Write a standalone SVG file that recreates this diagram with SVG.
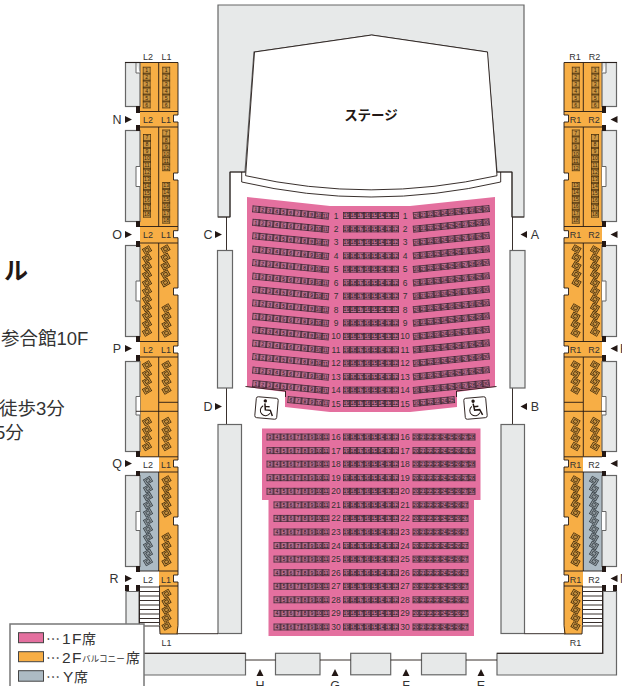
<svg xmlns="http://www.w3.org/2000/svg" xmlns:xlink="http://www.w3.org/1999/xlink" width="622" height="686" viewBox="0 0 622 686">
<style>
text{font-family:"Liberation Sans","Noto Sans CJK JP",sans-serif;fill:#333}
.wall{fill:#e7e9e9;stroke:#666;stroke-width:1.2}
.ln{fill:none;stroke:#231815;stroke-width:.9}
.bk{fill:#231815}
.or{fill:#f7ae45}
.by{fill:#adbbc4}
.pk{fill:#e4709f}
.sd{font-size:5.2px;text-anchor:middle;fill:#1d1014}
.sq{font-size:5.2px;text-anchor:middle;fill:#3a2508}
.rn{font-size:8.5px;text-anchor:middle}
.lb{font-size:9px;text-anchor:middle}
.lt{font-size:12.5px;text-anchor:middle}
.cap{font-size:14px}
.big{font-size:15.5px;letter-spacing:1.5px}
.ctl{font-size:18.5px}
</style>
<defs>
<pattern id="cell" width="7" height="7" patternUnits="userSpaceOnUse" x="0" y="-3.5"><rect width="7" height="7" fill="#33202a"/><rect x=".7" y=".7" width="5.6" height="5.6" fill="#bb6f91"/></pattern>
<pattern id="cellv" width="8" height="6.95" patternUnits="userSpaceOnUse" x="-4" y="0"><rect width="8" height="6.95" fill="#3a2508"/><rect x=".6" y=".7" width="6.8" height="5.6" fill="#cf9843"/></pattern>
<g id="di"><g transform="rotate(-30)"><rect x="-4" y="-3.3" width="8" height="6.6" fill="#3a2508"/><rect x="-3.3" y="-2.6" width="6.6" height="5.2" fill="#c9923f"/><rect x="-1.8" y="-1.5" width="3.6" height="3" fill="none" stroke="#3a2508" stroke-width=".7"/></g></g>
<g id="dy"><g transform="rotate(-30)"><rect x="-4" y="-3.3" width="8" height="6.6" fill="#333b40"/><rect x="-3.3" y="-2.6" width="6.6" height="5.2" fill="#8e989e"/><rect x="-1.8" y="-1.5" width="3.6" height="3" fill="none" stroke="#333b40" stroke-width=".7"/></g></g>
<g id="r11"><rect width="77" height="7" y="-3.5" fill="url(#cell)"/><text x="3.5" y="1.9" class="sd">1</text><text x="10.5" y="1.9" class="sd">2</text><text x="17.5" y="1.9" class="sd">3</text><text x="24.5" y="1.9" class="sd">4</text><text x="31.5" y="1.9" class="sd">5</text><text x="38.5" y="1.9" class="sd">6</text><text x="45.5" y="1.9" class="sd">7</text><text x="52.5" y="1.9" class="sd">8</text><text x="59.5" y="1.9" class="sd">9</text><text x="66.5" y="1.9" class="sd">10</text><text x="73.5" y="1.9" class="sd">11</text></g>
<g id="r6l"><rect width="42" height="7" y="-3.5" fill="url(#cell)"/><text x="3.5" y="1.9" class="sd">6</text><text x="10.5" y="1.9" class="sd">7</text><text x="17.5" y="1.9" class="sd">8</text><text x="24.5" y="1.9" class="sd">9</text><text x="31.5" y="1.9" class="sd">10</text><text x="38.5" y="1.9" class="sd">11</text></g>
<g id="mid"><rect width="56" height="7" y="-3.5" fill="url(#cell)"/><text x="3.5" y="1.9" class="sd">19</text><text x="10.5" y="1.9" class="sd">18</text><text x="17.5" y="1.9" class="sd">17</text><text x="24.5" y="1.9" class="sd">16</text><text x="31.5" y="1.9" class="sd">15</text><text x="38.5" y="1.9" class="sd">14</text><text x="45.5" y="1.9" class="sd">13</text><text x="52.5" y="1.9" class="sd">12</text></g>
<g id="rR"><rect width="77" height="7" y="-3.5" fill="url(#cell)"/><text x="3.5" y="1.9" class="sd">20</text><text x="10.5" y="1.9" class="sd">21</text><text x="17.5" y="1.9" class="sd">22</text><text x="24.5" y="1.9" class="sd">23</text><text x="31.5" y="1.9" class="sd">24</text><text x="38.5" y="1.9" class="sd">25</text><text x="45.5" y="1.9" class="sd">26</text><text x="52.5" y="1.9" class="sd">27</text><text x="59.5" y="1.9" class="sd">28</text><text x="66.5" y="1.9" class="sd">29</text><text x="73.5" y="1.9" class="sd">30</text></g>
<g id="r6r"><rect width="42" height="7" y="-3.5" fill="url(#cell)"/><text x="3.5" y="1.9" class="sd">20</text><text x="10.5" y="1.9" class="sd">21</text><text x="17.5" y="1.9" class="sd">22</text><text x="24.5" y="1.9" class="sd">23</text><text x="31.5" y="1.9" class="sd">24</text><text x="38.5" y="1.9" class="sd">25</text></g>
<g id="l9"><rect width="63" height="7" y="-3.5" fill="url(#cell)"/><text x="3.5" y="1.9" class="sd">3</text><text x="10.5" y="1.9" class="sd">4</text><text x="17.5" y="1.9" class="sd">5</text><text x="24.5" y="1.9" class="sd">6</text><text x="31.5" y="1.9" class="sd">7</text><text x="38.5" y="1.9" class="sd">8</text><text x="45.5" y="1.9" class="sd">9</text><text x="52.5" y="1.9" class="sd">10</text><text x="59.5" y="1.9" class="sd">11</text></g>
<g id="l8"><rect width="56" height="7" y="-3.5" fill="url(#cell)"/><text x="3.5" y="1.9" class="sd">4</text><text x="10.5" y="1.9" class="sd">5</text><text x="17.5" y="1.9" class="sd">6</text><text x="24.5" y="1.9" class="sd">7</text><text x="31.5" y="1.9" class="sd">8</text><text x="38.5" y="1.9" class="sd">9</text><text x="45.5" y="1.9" class="sd">10</text><text x="52.5" y="1.9" class="sd">11</text></g>
<g id="x9"><rect width="63" height="7" y="-3.5" fill="url(#cell)"/><text x="3.5" y="1.9" class="sd">20</text><text x="10.5" y="1.9" class="sd">21</text><text x="17.5" y="1.9" class="sd">22</text><text x="24.5" y="1.9" class="sd">23</text><text x="31.5" y="1.9" class="sd">24</text><text x="38.5" y="1.9" class="sd">25</text><text x="45.5" y="1.9" class="sd">26</text><text x="52.5" y="1.9" class="sd">27</text><text x="59.5" y="1.9" class="sd">28</text></g>
<g id="x8"><rect width="56" height="7" y="-3.5" fill="url(#cell)"/><text x="3.5" y="1.9" class="sd">20</text><text x="10.5" y="1.9" class="sd">21</text><text x="17.5" y="1.9" class="sd">22</text><text x="24.5" y="1.9" class="sd">23</text><text x="31.5" y="1.9" class="sd">24</text><text x="38.5" y="1.9" class="sd">25</text><text x="45.5" y="1.9" class="sd">26</text><text x="52.5" y="1.9" class="sd">27</text></g>

<g id="t1"><rect x="-4" y="0" width="8" height="41.7" fill="url(#cellv)"/><text y="5.4" class="sq">1</text><text y="12.3" class="sq">2</text><text y="19.3" class="sq">3</text><text y="26.2" class="sq">4</text><text y="33.2" class="sq">5</text><text y="40.1" class="sq">6</text></g>
<g id="t2"><rect x="-4" y="0" width="8" height="41.7" fill="url(#cellv)"/><text y="5.4" class="sq">7</text><text y="12.3" class="sq">8</text><text y="19.3" class="sq">9</text><text y="26.2" class="sq">10</text><text y="33.2" class="sq">11</text><text y="40.1" class="sq">12</text></g>
<g id="t3"><rect x="-4" y="0" width="8" height="41.7" fill="url(#cellv)"/><text y="5.4" class="sq">13</text><text y="12.3" class="sq">14</text><text y="19.3" class="sq">15</text><text y="26.2" class="sq">16</text><text y="33.2" class="sq">17</text><text y="40.1" class="sq">18</text></g>

<g id="balcony">
<rect class="or" x="140" y="62" width="38" height="395"/>
<rect class="or" x="159" y="457" width="19" height="15"/>
<rect class="or" x="159" y="472" width="19" height="99"/>
<rect class="by" x="140" y="472" width="19" height="99"/>
<rect class="or" x="159" y="571" width="19" height="15"/>
<rect class="or" x="160" y="586" width="18" height="48"/>
<path fill="#fff" d="M173.500 115h5v7h-5zM173.500 173h5v7h-5zM173.500 230.700h5v7h-5zM173.500 288h5v7h-5zM173.500 346h5v7h-5zM173.500 460h5v7h-5zM173.500 517h5v8h-5zM173.500 575h5v7h-5z"/>
<rect class="wall" x="125.5" y="62.5" width="14.5" height="44"/>
<rect class="wall" x="125.5" y="130.5" width="14.5" height="91"/>
<rect class="wall" x="125.5" y="245.5" width="14.5" height="91"/>
<rect class="wall" x="125.5" y="361.5" width="14.5" height="90"/>
<rect class="wall" x="125.5" y="475.5" width="14.5" height="91"/>
<path fill="#fff" stroke="#666" d="M136 63V73H140M139.5 62.5H136M140 166.5H136V186.5H140M140 281H136V301H140M140 396.5H136V415H140M140 511.5H136V530.5H140"/>
<path class="bk" d="M136 106h4v7h-4zM136 125h4v6h-4zM136 221h4v6h-4zM136 241h4v6h-4zM136 336h4v6h-4zM136 355h4v6h-4zM136 451h4v6h-4zM136 471h4v5h-4zM136 566h4v6h-4zM136 585h4v6h-4zM125 585h4v6h-4z"/>
<path class="ln" d="M125 62.5H178M140 111.5H178M158.7 62.5V111M140 127H178M158.7 127V226.5M140 226.5H178M140 243H178M158.7 243V341.5M140 341.5H178M140 357H178M158.7 357V456.500M159 402.300H178M136 411.300H178M140 456.800H178M140 472H178M158.700 472V571M140 571H178M159 586H178M160 634H178"/>
<path class="ln" d="M178 62.500V115H173.500V122H178V173H173.500V180H178V230.700H173.500V237.700H178V288H173.500V295H178V346H173.500V353H178V460H173.500V467H178V517H173.500V525H178V575H173.500V582H178V625.500L177 634"/>
<path class="ln" d="M159.500 586V625.500L160 634"/>
<path fill="none" stroke="#231815" stroke-width=".9" d="M139.500 587H159M139.500 591.500H159M139.500 596H159M139.500 600.500H159M139.500 605H159M139.500 609.500H159M139.500 614H159M139.500 618.500H159M139.500 622.500H159M139.500 626H159"/>
<g>
<use href="#di" x="147" y="250"/><use href="#di" x="147" y="258.200"/><use href="#di" x="147" y="266.400"/><use href="#di" x="147" y="274.600"/><use href="#di" x="147" y="282.800"/><use href="#di" x="147" y="291"/><use href="#di" x="147" y="299.200"/><use href="#di" x="147" y="307.400"/><use href="#di" x="147" y="315.600"/><use href="#di" x="147" y="323.800"/><use href="#di" x="147" y="332"/>
<use href="#di" x="165.500" y="249"/><use href="#di" x="165.500" y="257.400"/><use href="#di" x="165.500" y="265.800"/><use href="#di" x="165.500" y="274.200"/><use href="#di" x="165.500" y="282.600"/>
<use href="#di" x="166.500" y="308"/><use href="#di" x="166.500" y="316.300"/><use href="#di" x="166.500" y="324.600"/><use href="#di" x="166.500" y="333"/>
<use href="#di" x="147" y="365"/><use href="#di" x="147" y="373.500"/><use href="#di" x="147" y="381.500"/><use href="#di" x="147" y="390"/>
<use href="#di" x="166.500" y="365"/><use href="#di" x="166.500" y="373.500"/><use href="#di" x="166.500" y="381.500"/><use href="#di" x="166.500" y="390"/>
<use href="#di" x="147" y="421.500"/><use href="#di" x="147" y="430"/><use href="#di" x="147" y="438"/><use href="#di" x="147" y="446.500"/>
<use href="#di" x="166.500" y="421.500"/><use href="#di" x="166.500" y="430"/><use href="#di" x="166.500" y="438"/><use href="#di" x="166.500" y="446.500"/>
<use href="#dy" x="148" y="480.500"/><use href="#dy" x="148" y="488.600"/><use href="#dy" x="148" y="496.700"/><use href="#dy" x="148" y="504.800"/><use href="#dy" x="148" y="512.900"/><use href="#dy" x="148" y="521"/><use href="#dy" x="148" y="529.100"/><use href="#dy" x="148" y="537.200"/><use href="#dy" x="148" y="545.300"/><use href="#dy" x="148" y="553.400"/><use href="#dy" x="148" y="561.500"/>
<use href="#di" x="166.500" y="480"/><use href="#di" x="166.500" y="488.200"/><use href="#di" x="166.500" y="496.400"/><use href="#di" x="166.500" y="504.600"/><use href="#di" x="166.500" y="512.800"/>
<use href="#di" x="166.500" y="537"/><use href="#di" x="166.500" y="545.300"/><use href="#di" x="166.500" y="553.600"/><use href="#di" x="166.500" y="561.800"/>
<use href="#di" x="166.500" y="593.500"/><use href="#di" x="166.500" y="601.700"/><use href="#di" x="166.500" y="609.900"/><use href="#di" x="166.500" y="618"/><use href="#di" x="166.500" y="626"/>
</g>
</g>
</defs>

<rect width="622" height="686" fill="#fff"/>

<g id="stage">
<path fill="#e7e9e9" stroke="#666" stroke-width="1.200" d="M218 5H524V217H512V172H497L487 52 371.700 35 254 52 245 172H230V217H218Z"/>
<path fill="#fff" stroke="#231815" stroke-width=".9" d="M245.600 175.700 254.500 52 371.700 35 487.500 52 497 175.700Q371 204 245.600 175.700Z"/>
<path class="ln" d="M241.700 172V182Q371 212 500.700 182V172M230 172H245.600M497 172H512M230 172V217M512 172V217M226.500 217V250M226.500 388V424M512.500 217V250M512.500 388V424M218 217H230M512 217H524"/>
<text x="371" y="120" font-size="13.500" font-weight="bold" text-anchor="middle" style="fill:#231815">ステージ</text>
</g>

<g id="walls">
<rect class="wall" x="217.500" y="250.500" width="15" height="137.500"/>
<rect class="wall" x="510" y="250.500" width="15" height="137.500"/>
<rect class="wall" x="218" y="424.500" width="23.500" height="209"/>
<rect class="wall" x="501" y="424.500" width="23.500" height="209"/>
<path class="ln" d="M178 633.700H218M524.500 633.700H564"/>
<path class="wall" d="M126 591.500H139V653.300H245.500V675H126Z"/>
<path class="wall" d="M616.500 591.500H603V653.300H497V675H616.500Z"/>
<path class="ln" d="M139.500 587V653.300H245.500M602.500 587V653.300H497"/>
<rect class="wall" x="275.500" y="653.300" width="44.500" height="21.500"/>
<rect class="wall" x="350.700" y="653.300" width="40" height="21.500"/>
<rect class="wall" x="421.500" y="653.300" width="44.500" height="21.500"/>
<path class="ln" d="M245.500 660H275.500M320 660H350.700M390.700 660H421.500M466 660H497"/>
</g>

<g id="seats-1f">
<path class="pk" d="M247 197 330 206H410L495 197V387L457 392V407L410 412H330L285 407V392L247 387Z"/>
<path class="pk" d="M262 428.500H480.500V500H474V636H268.500V500H262Z"/>
<path class="ln" d="M245.500 386.500 285.500 391V397M496.500 386.500 456.500 391V397"/>
<g>
<use href="#r11" transform="translate(252.300 208.800) rotate(5.500)"/><use href="#r11" transform="translate(252.300 222.200) rotate(5.500)"/><use href="#r11" transform="translate(252.300 235.700) rotate(5.500)"/><use href="#r11" transform="translate(252.300 249.100) rotate(5.500)"/><use href="#r11" transform="translate(252.300 262.500) rotate(5.500)"/><use href="#r11" transform="translate(252.300 276) rotate(5.500)"/><use href="#r11" transform="translate(252.300 289.400) rotate(5.500)"/><use href="#r11" transform="translate(252.300 302.800) rotate(5.500)"/><use href="#r11" transform="translate(252.300 316.200) rotate(5.500)"/><use href="#r11" transform="translate(252.300 329.700) rotate(5.500)"/><use href="#r11" transform="translate(252.300 343.100) rotate(5.500)"/><use href="#r11" transform="translate(252.300 356.500) rotate(5.500)"/><use href="#r11" transform="translate(252.300 370) rotate(5.500)"/><use href="#r11" transform="translate(252.300 383.400) rotate(5.500)"/>
<use href="#r6l" transform="translate(287.500 399.500) rotate(5.500)"/>
<use href="#mid" x="343" y="215.500"/><use href="#mid" x="343" y="228.900"/><use href="#mid" x="343" y="242.400"/><use href="#mid" x="343" y="255.800"/><use href="#mid" x="343" y="269.200"/><use href="#mid" x="343" y="282.700"/><use href="#mid" x="343" y="296.100"/><use href="#mid" x="343" y="309.500"/><use href="#mid" x="343" y="322.900"/><use href="#mid" x="343" y="336.400"/><use href="#mid" x="343" y="349.800"/><use href="#mid" x="343" y="363.200"/><use href="#mid" x="343" y="376.700"/><use href="#mid" x="343" y="390.100"/><use href="#mid" x="343" y="403.500"/>
<use href="#rR" transform="translate(413 215.800) rotate(-5.500)"/><use href="#rR" transform="translate(413 229.200) rotate(-5.500)"/><use href="#rR" transform="translate(413 242.700) rotate(-5.500)"/><use href="#rR" transform="translate(413 256.100) rotate(-5.500)"/><use href="#rR" transform="translate(413 269.500) rotate(-5.500)"/><use href="#rR" transform="translate(413 283) rotate(-5.500)"/><use href="#rR" transform="translate(413 296.400) rotate(-5.500)"/><use href="#rR" transform="translate(413 309.800) rotate(-5.500)"/><use href="#rR" transform="translate(413 323.200) rotate(-5.500)"/><use href="#rR" transform="translate(413 336.700) rotate(-5.500)"/><use href="#rR" transform="translate(413 350.100) rotate(-5.500)"/><use href="#rR" transform="translate(413 363.500) rotate(-5.500)"/><use href="#rR" transform="translate(413 377) rotate(-5.500)"/><use href="#rR" transform="translate(413 390.400) rotate(-5.500)"/>
<use href="#r6r" transform="translate(413 403.500) rotate(-5.500)"/>
<use href="#l9" x="266.500" y="437"/><use href="#l9" x="266.500" y="450.600"/><use href="#l9" x="266.500" y="464.100"/><use href="#l9" x="266.500" y="477.700"/><use href="#l9" x="266.500" y="491.300"/>
<use href="#l8" x="273.500" y="504.900"/><use href="#l8" x="273.500" y="518.400"/><use href="#l8" x="273.500" y="532"/><use href="#l8" x="273.500" y="545.600"/><use href="#l8" x="273.500" y="559.100"/><use href="#l8" x="273.500" y="572.700"/><use href="#l8" x="273.500" y="586.300"/><use href="#l8" x="273.500" y="599.800"/><use href="#l8" x="273.500" y="613.400"/><use href="#l8" x="273.500" y="627"/>
<use href="#mid" x="343" y="437"/><use href="#mid" x="343" y="450.600"/><use href="#mid" x="343" y="464.100"/><use href="#mid" x="343" y="477.700"/><use href="#mid" x="343" y="491.300"/><use href="#mid" x="343" y="504.900"/><use href="#mid" x="343" y="518.400"/><use href="#mid" x="343" y="532"/><use href="#mid" x="343" y="545.600"/><use href="#mid" x="343" y="559.100"/><use href="#mid" x="343" y="572.700"/><use href="#mid" x="343" y="586.300"/><use href="#mid" x="343" y="599.800"/><use href="#mid" x="343" y="613.400"/><use href="#mid" x="343" y="627"/>
<use href="#x9" x="412.500" y="437"/><use href="#x9" x="412.500" y="450.600"/><use href="#x9" x="412.500" y="464.100"/><use href="#x9" x="412.500" y="477.700"/><use href="#x9" x="412.500" y="491.300"/>
<use href="#x8" x="412.500" y="504.900"/><use href="#x8" x="412.500" y="518.400"/><use href="#x8" x="412.500" y="532"/><use href="#x8" x="412.500" y="545.600"/><use href="#x8" x="412.500" y="559.100"/><use href="#x8" x="412.500" y="572.700"/><use href="#x8" x="412.500" y="586.300"/><use href="#x8" x="412.500" y="599.800"/><use href="#x8" x="412.500" y="613.400"/><use href="#x8" x="412.500" y="627"/>
</g>
<g id="row-numbers">
<text class="rn" x="336" y="218.500">1</text><text class="rn" x="405" y="218.500">1</text><text class="rn" x="336" y="231.900">2</text><text class="rn" x="405" y="231.900">2</text><text class="rn" x="336" y="245.400">3</text><text class="rn" x="405" y="245.400">3</text><text class="rn" x="336" y="258.800">4</text><text class="rn" x="405" y="258.800">4</text><text class="rn" x="336" y="272.200">5</text><text class="rn" x="405" y="272.200">5</text><text class="rn" x="336" y="285.700">6</text><text class="rn" x="405" y="285.700">6</text><text class="rn" x="336" y="299.100">7</text><text class="rn" x="405" y="299.100">7</text><text class="rn" x="336" y="312.500">8</text><text class="rn" x="405" y="312.500">8</text><text class="rn" x="336" y="325.900">9</text><text class="rn" x="405" y="325.900">9</text><text class="rn" x="336" y="339.400">10</text><text class="rn" x="405" y="339.400">10</text><text class="rn" x="336" y="352.800">11</text><text class="rn" x="405" y="352.800">11</text><text class="rn" x="336" y="366.200">12</text><text class="rn" x="405" y="366.200">12</text><text class="rn" x="336" y="379.700">13</text><text class="rn" x="405" y="379.700">13</text><text class="rn" x="336" y="393.100">14</text><text class="rn" x="405" y="393.100">14</text><text class="rn" x="336" y="406.500">15</text><text class="rn" x="405" y="406.500">15</text>
<text class="rn" x="336" y="440">16</text><text class="rn" x="405" y="440">16</text><text class="rn" x="336" y="453.600">17</text><text class="rn" x="405" y="453.600">17</text><text class="rn" x="336" y="467.100">18</text><text class="rn" x="405" y="467.100">18</text><text class="rn" x="336" y="480.700">19</text><text class="rn" x="405" y="480.700">19</text><text class="rn" x="336" y="494.300">20</text><text class="rn" x="405" y="494.300">20</text><text class="rn" x="336" y="507.900">21</text><text class="rn" x="405" y="507.900">21</text><text class="rn" x="336" y="521.400">22</text><text class="rn" x="405" y="521.400">22</text><text class="rn" x="336" y="535">23</text><text class="rn" x="405" y="535">23</text><text class="rn" x="336" y="548.600">24</text><text class="rn" x="405" y="548.600">24</text><text class="rn" x="336" y="562.100">25</text><text class="rn" x="405" y="562.100">25</text><text class="rn" x="336" y="575.700">26</text><text class="rn" x="405" y="575.700">26</text><text class="rn" x="336" y="589.300">27</text><text class="rn" x="405" y="589.300">27</text><text class="rn" x="336" y="602.800">28</text><text class="rn" x="405" y="602.800">28</text><text class="rn" x="336" y="616.400">29</text><text class="rn" x="405" y="616.400">29</text><text class="rn" x="336" y="630">30</text><text class="rn" x="405" y="630">30</text>
</g>
</g>

<g id="wheelchair-left" transform="translate(266.500 408) rotate(5)">
<rect x="-11" y="-10.500" width="22" height="21" rx="2" fill="#fff" stroke="#231815" stroke-width=".9"/>
<circle cx="-1.800" cy="-7" r="1.700" class="bk"/>
<path fill="none" stroke="#231815" stroke-width="1.500" d="M-2 -4.500-1 2H4L6.500 7.500M-1.500 -1.500H3"/>
<path fill="none" stroke="#231815" stroke-width="1" d="M-3.500 -2A5.300 5.300 0 1 0 4 5"/>
</g>
<g id="wheelchair-right" transform="translate(475.500 408) rotate(-5)">
<rect x="-11" y="-10.500" width="22" height="21" rx="2" fill="#fff" stroke="#231815" stroke-width=".9"/>
<circle cx="-1.800" cy="-7" r="1.700" class="bk"/>
<path fill="none" stroke="#231815" stroke-width="1.500" d="M-2 -4.500-1 2H4L6.500 7.500M-1.500 -1.500H3"/>
<path fill="none" stroke="#231815" stroke-width="1" d="M-3.500 -2A5.300 5.300 0 1 0 4 5"/>
</g>

<g id="balcony-left">
<use href="#balcony"/>
<use href="#t1" x="146.700" y="66.700"/><use href="#t1" x="166.200" y="66.700"/>
<use href="#t2" x="147" y="134"/><use href="#t3" x="147" y="176"/>
<use href="#t2" x="166.200" y="129.500"/><use href="#t3" x="166.200" y="182"/>
</g>
<g id="balcony-right">
<use href="#balcony" transform="translate(742 0) scale(-1 1)"/>
<use href="#t1" x="595.300" y="66.700"/><use href="#t1" x="575.800" y="66.700"/>
<use href="#t2" x="595" y="134"/><use href="#t3" x="595" y="176"/>
<use href="#t2" x="575.800" y="129.500"/><use href="#t3" x="575.800" y="182"/>
</g>

<g id="balcony-labels">
<text class="lb" x="148" y="60">L2</text><text class="lb" x="166.500" y="60">L1</text>
<text class="lb" x="148" y="122.500">L2</text><text class="lb" x="166" y="122.500">L1</text>
<text class="lb" x="148" y="238">L2</text><text class="lb" x="166" y="238">L1</text>
<text class="lb" x="148" y="352.500">L2</text><text class="lb" x="166" y="352.500">L1</text>
<text class="lb" x="148" y="467.500">L2</text><text class="lb" x="166" y="467.500">L1</text>
<text class="lb" x="148" y="582.500">L2</text><text class="lb" x="166" y="582.500">L1</text>
<text class="lb" x="166.500" y="646">L1</text>
<text class="lb" x="575" y="60">R1</text><text class="lb" x="594.500" y="60">R2</text>
<text class="lb" x="575.500" y="122.500">R1</text><text class="lb" x="594" y="122.500">R2</text>
<text class="lb" x="575.500" y="238">R1</text><text class="lb" x="594" y="238">R2</text>
<text class="lb" x="575.500" y="352.500">R1</text><text class="lb" x="594" y="352.500">R2</text>
<text class="lb" x="575.500" y="467.500">R1</text><text class="lb" x="594" y="467.500">R2</text>
<text class="lb" x="575.500" y="582.500">R1</text><text class="lb" x="594" y="582.500">R2</text>
<text class="lb" x="575.500" y="646">R1</text>
</g>

<g id="entrances">
<path class="bk" d="M125 116 132 119.500 125 123ZM125 231 132 234.500 125 238ZM125 345 132 348.500 125 352ZM125 460 132 463.500 125 467ZM125 575 132 578.500 125 582ZM215 231 222 234.500 215 238ZM215 403 222 406.500 215 410ZM527 231 520.500 234.500 527 238ZM527 403 520.500 406.500 527 410ZM617.500 116 610.500 119.500 617.500 123ZM617.500 231 610.500 234.500 617.500 238ZM617.500 345 610.500 348.500 617.500 352ZM617.500 460 610.500 463.500 617.500 467ZM617.500 575 610.500 578.500 617.500 582ZM260 669 263.500 676H256.500ZM335 669 338.500 676H331.500ZM406 669 409.500 676H402.500ZM481 669 484.500 676H477.500Z"/>
<text class="lt" x="117" y="123.500">N</text><text class="lt" x="117" y="238.500">O</text><text class="lt" x="117" y="352.500">P</text><text class="lt" x="117" y="468">Q</text><text class="lt" x="114" y="583">R</text>
<text class="lt" x="208" y="239">C</text><text class="lt" x="208" y="411">D</text><text class="lt" x="535" y="239">A</text><text class="lt" x="535" y="411">B</text>
<text class="lt" x="260" y="690">H</text><text class="lt" x="335" y="690">G</text><text class="lt" x="406" y="690">F</text><text class="lt" x="481" y="690">E</text>
<text class="lt" x="620" y="353" style="text-anchor:start">K</text><text class="lt" x="620" y="583" style="text-anchor:start">M</text>
</g>

<g id="page-text">
<text x="4" y="279" font-size="24" font-weight="bold" style="fill:#231815">ル</text>
<text class="ctl" x="1" y="345">参合館10F</text>
<text class="ctl" x="-1" y="415">徒歩3分</text>
<text class="ctl" x="-5" y="439">5分</text>
</g>

<g id="legend">
<rect x="10" y="624" width="134" height="70" fill="#fff" stroke="#777" stroke-width="1.500"/>
<rect x="18.500" y="632.700" width="25" height="10" class="pk" stroke="#444"/>
<rect x="18.500" y="651.700" width="25" height="10" class="or" stroke="#444"/>
<rect x="18.500" y="670.700" width="25" height="10.500" class="by" stroke="#444"/>
<text class="cap" x="46" y="644">⋯</text><text class="big" x="62" y="644">1F</text><text class="cap" x="82" y="644">席</text>
<text class="cap" x="46" y="663">⋯</text><text class="big" x="62" y="663">2F</text><text x="82" y="662" font-size="8.600">バルコニー</text><text class="cap" x="126" y="663">席</text>
<text class="cap" x="46" y="682">⋯</text><text class="big" x="63" y="682">Y</text><text class="cap" x="74" y="682">席</text>
</g>
</svg>
